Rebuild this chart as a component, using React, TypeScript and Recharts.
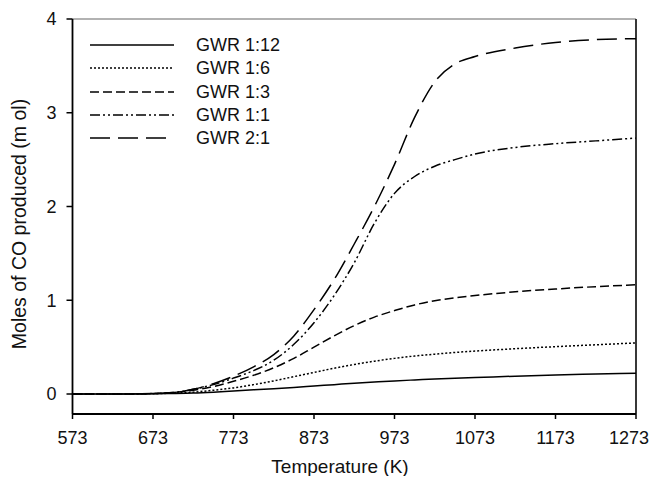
import React from "react";
import { LineChart, Line, XAxis, YAxis, ReferenceLine, Legend } from "recharts";

const temperatures = [573, 623, 673, 698, 723, 748, 773, 798, 823, 848, 873, 898, 923, 948, 973, 998, 1023, 1048, 1073, 1123, 1173, 1223, 1273];
const gwr1_12 = [0, 0, 0.002, 0.005, 0.01, 0.02, 0.033, 0.045, 0.057, 0.07, 0.085, 0.1, 0.115, 0.128, 0.14, 0.15, 0.16, 0.168, 0.175, 0.19, 0.203, 0.213, 0.222];
const gwr1_6 = [0, 0, 0.003, 0.01, 0.02, 0.04, 0.065, 0.1, 0.14, 0.185, 0.23, 0.275, 0.315, 0.35, 0.38, 0.405, 0.425, 0.443, 0.458, 0.483, 0.505, 0.525, 0.545];
const gwr1_3 = [0, 0, 0.005, 0.015, 0.04, 0.08, 0.135, 0.2, 0.28, 0.38, 0.5, 0.62, 0.73, 0.82, 0.89, 0.95, 0.995, 1.025, 1.05, 1.09, 1.12, 1.145, 1.165];
const gwr1_1 = [0, 0, 0.005, 0.015, 0.05, 0.1, 0.17, 0.25, 0.36, 0.53, 0.76, 1.05, 1.4, 1.82, 2.14, 2.32, 2.43, 2.5, 2.56, 2.63, 2.67, 2.7, 2.73];
const gwr2_1 = [0, 0, 0.005, 0.015, 0.05, 0.11, 0.19, 0.29, 0.42, 0.62, 0.9, 1.22, 1.6, 2.0, 2.45, 2.95, 3.33, 3.52, 3.6, 3.69, 3.75, 3.78, 3.79];

const xTicks = [573, 673, 773, 873, 973, 1073, 1173, 1273];
const yTicks = [0, 1, 2, 3, 4];

const seriesNames = ["GWR 1:12", "GWR 1:6", "GWR 1:3", "GWR 1:1", "GWR 2:1"];
const seriesKeys = ["g12", "g6", "g3", "g1", "g21"];
const seriesDash = ["0", "2 2", "9 4", "10 3 2 3 2 3", "20 8"];
const seriesValues = [gwr1_12, gwr1_6, gwr1_3, gwr1_1, gwr2_1];

const data = temperatures.map((t, i) => {
  const row: Record<string, number> = { t };
  seriesKeys.forEach((k, s) => {
    row[k] = seriesValues[s][i];
  });
  return row;
});

const FONT = "'Liberation Sans', Arial, sans-serif";

const LegendContent = () => (
  <div style={{ fontFamily: FONT, fontSize: 18, color: "#111" }}>
    {seriesNames.map((name, i) => (
      <div key={name} style={{ display: "flex", alignItems: "center", height: 23.25 }}>
        <svg width={86} height={6} style={{ display: "block" }}>
          <line x1={1} y1={3} x2={85} y2={3} stroke="#000" strokeWidth={1.5} strokeDasharray={seriesDash[i]} />
        </svg>
        <span style={{ marginLeft: 21, lineHeight: "18px" }}>{name}</span>
      </div>
    ))}
  </div>
);

const lastTick = xTicks[xTicks.length - 1];

const XTick = (props: any) => {
  const { x, y, payload } = props;
  const isLast = payload.value === lastTick;
  return (
    <text
      x={isLast ? x + 13 : x}
      y={y}
      dy={13}
      textAnchor={isLast ? "end" : "middle"}
      fontSize={18}
      fontFamily={FONT}
      fill="#111"
    >
      {payload.value}
    </text>
  );
};

export default function App() {
  return (
    <div style={{ width: 641, height: 468, position: "relative" }}>
      <style>{`html,body{overflow:hidden} .recharts-surface{overflow:visible} .recharts-wrapper{overflow:visible}`}</style>
      <LineChart width={649} height={468} data={data} margin={{ top: 11, right: 21, left: 0, bottom: 0 }}>
        <XAxis
          dataKey="t"
          type="number"
          domain={[573, 1273]}
          ticks={xTicks}
          height={62}
          tickSize={5}
          tickMargin={12}
          axisLine={{ stroke: "#000", strokeWidth: 1.8 }}
          tickLine={{ stroke: "#000", strokeWidth: 1.5 }}
          tick={<XTick />}
          label={() => (
            <text x={332} y={465} textAnchor="middle" fontSize={19} fontFamily={FONT} fill="#111">
              Temperature (K)
            </text>
          )}
        />
        <YAxis
          type="number"
          domain={[-0.2133, 4]}
          ticks={yTicks}
          width={64.5}
          tickSize={6}
          tickMargin={10}
          allowDataOverflow
          axisLine={{ stroke: "#000", strokeWidth: 1.8 }}
          tickLine={{ stroke: "#000", strokeWidth: 1.5 }}
          tick={{ fill: "#111", fontSize: 18, fontFamily: FONT }}
          label={() => {
            const cx = 11;
            const cy = 216;
            return (
              <text
                x={cx}
                y={cy}
                textAnchor="middle"
                dominantBaseline="central"
                transform={`rotate(-90, ${cx}, ${cy})`}
                fontSize={19.5}
                fontFamily={FONT}
                fill="#111"
              >
                Moles of CO produced (m ol)
              </text>
            );
          }}
        />
        <ReferenceLine y={4} stroke="#999" strokeWidth={1.5} />
        <ReferenceLine x={1273} stroke="#222" strokeWidth={1.8} />
        {seriesKeys.map((k, i) => (
          <Line
            key={k}
            dataKey={k}
            name={seriesNames[i]}
            type="monotone"
            stroke="#000"
            strokeWidth={1.5}
            strokeDasharray={seriesDash[i]}
            dot={false}
            activeDot={false}
            isAnimationActive={false}
          />
        ))}
        <Legend
          layout="vertical"
          align="center"
          verticalAlign="middle"
          content={<LegendContent />}
          wrapperStyle={{ left: 81, top: 25.5, width: 220, height: 120 }}
        />
      </LineChart>
    </div>
  );
}
